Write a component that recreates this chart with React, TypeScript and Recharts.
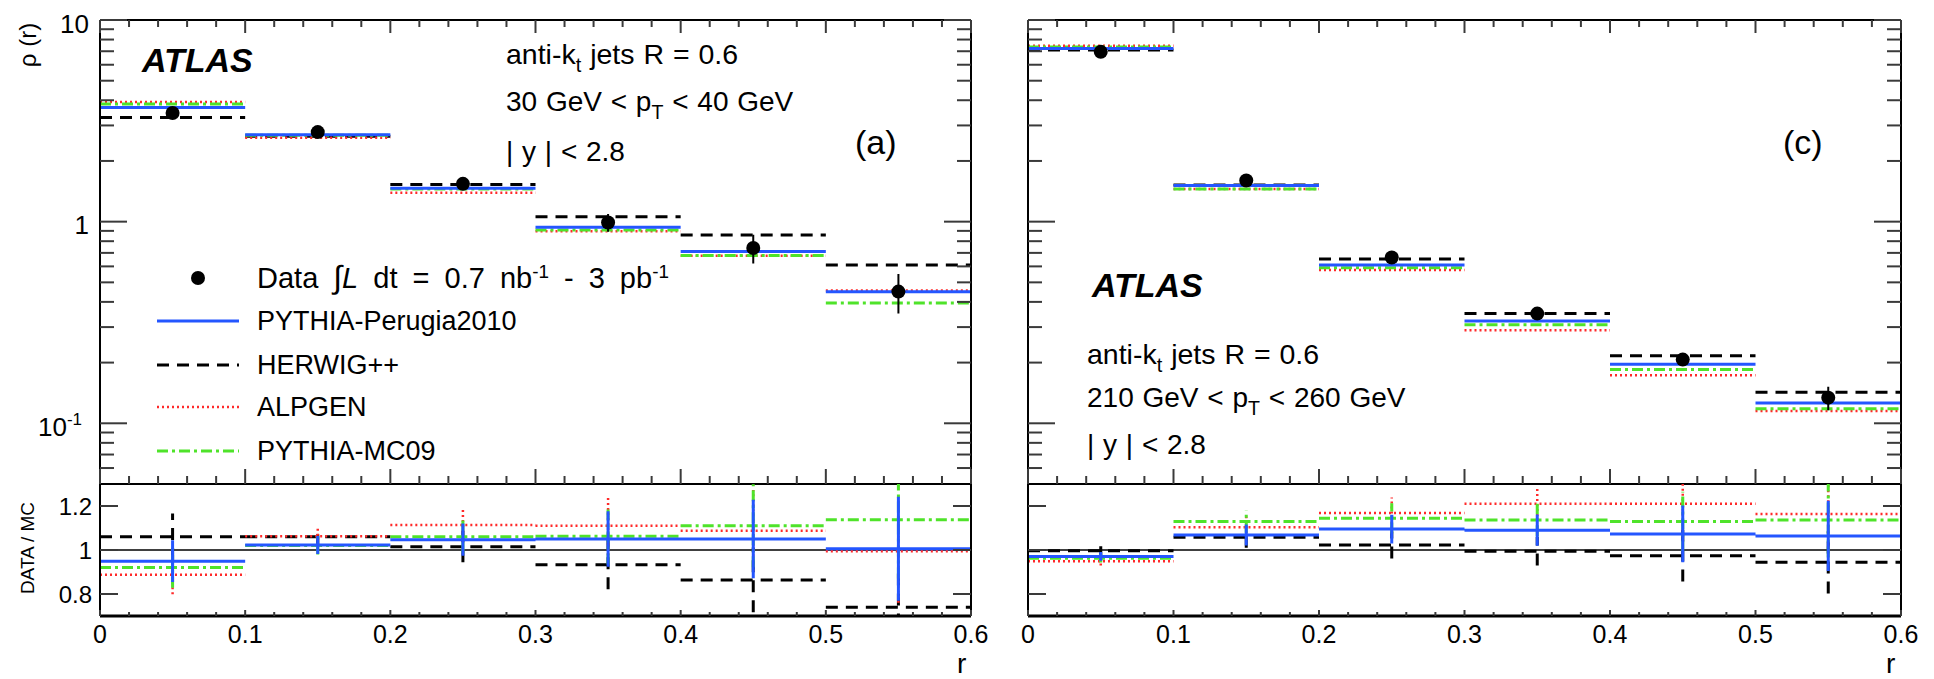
import React from 'react';
import { ComposedChart, Line, Scatter, XAxis, YAxis, ReferenceLine } from 'recharts';

const FONT = '"Liberation Sans", Arial, Helvetica, sans-serif';

// ---------------- binning / ticks ----------------
const BIN_EDGES = [0, 0.1, 0.2, 0.3, 0.4, 0.5, 0.6];
const X_MAJOR_TICKS = [0, 0.1, 0.2, 0.3, 0.4, 0.5, 0.6];
const X_TICK_LABELS = ['0', '0.1', '0.2', '0.3', '0.4', '0.5', '0.6'];
const X_MINOR_TICKS = [0.02, 0.04, 0.06, 0.08, 0.12, 0.14, 0.16, 0.18, 0.22, 0.24, 0.26, 0.28,
  0.32, 0.34, 0.36, 0.38, 0.42, 0.44, 0.46, 0.48, 0.52, 0.54, 0.56, 0.58];
const RHO_MAJOR_TICKS = [0.1, 1, 10];
const RHO_MINOR_TICKS = [0.06, 0.07, 0.08, 0.09, 0.2, 0.3, 0.4, 0.5, 0.6, 0.7, 0.8, 0.9, 2, 3, 4, 5, 6, 7, 8, 9];
const RATIO_TICKS = [0.8, 1, 1.2];
const RATIO_TICK_LABELS = ['0.8', '1', '1.2'];

// ---------------- panel (a): 30 < pT < 40 GeV ----------------
const DATA_A = [3.46, 2.78, 1.54, 0.99, 0.74, 0.45];
const DATA_ERR_A = [0.22, 0.1, 0.08, 0.1, 0.12, 0.1];
const PERUGIA_A = [3.68, 2.7, 1.465, 0.937, 0.711, 0.449];
const HERWIG_A = [3.28, 2.65, 1.53, 1.059, 0.859, 0.609];
const ALPGEN_A = [3.92, 2.61, 1.39, 0.895, 0.677, 0.455];
const MC09_A = [3.83, 2.68, 1.45, 0.91, 0.68, 0.395];
const RATIO_PERUGIA_A = [0.949, 1.023, 1.047, 1.05, 1.05, 1.006];
const RATIO_HERWIG_A = [1.06, 1.06, 1.015, 0.933, 0.864, 0.74];
const RATIO_ALPGEN_A = [0.888, 1.062, 1.114, 1.11, 1.088, 0.994];
const RATIO_MC09_A = [0.92, 1.02, 1.06, 1.062, 1.11, 1.138];
const RATIO_FRAC_ERR_A = [0.1, 0.04, 0.07, 0.12, 0.17, 0.235];

// ---------------- panel (c): 210 < pT < 260 GeV ----------------
const DATA_C = [6.95, 1.6, 0.664, 0.35, 0.207, 0.134];
const DATA_ERR_C = [0.1, 0.03, 0.015, 0.01, 0.012, 0.018];
const PERUGIA_C = [7.23, 1.51, 0.609, 0.322, 0.196, 0.126];
const HERWIG_C = [7.09, 1.52, 0.652, 0.35, 0.216, 0.1425];
const ALPGEN_C = [7.45, 1.45, 0.575, 0.289, 0.173, 0.115];
const MC09_C = [7.34, 1.45, 0.59, 0.308, 0.185, 0.118];
const RATIO_PERUGIA_C = [0.971, 1.068, 1.095, 1.09, 1.073, 1.064];
const RATIO_HERWIG_C = [0.997, 1.058, 1.023, 0.994, 0.974, 0.944];
const RATIO_ALPGEN_C = [0.949, 1.103, 1.168, 1.21, 1.21, 1.164];
const RATIO_MC09_C = [0.962, 1.129, 1.144, 1.136, 1.129, 1.136];
const RATIO_FRAC_ERR_C = [0.02, 0.045, 0.06, 0.065, 0.12, 0.15];

// ---------------- styles ----------------
const MC_STYLE: Record<string, any> = {
  herwig: { stroke: '#000000', strokeWidth: 3, strokeDasharray: '12 8' },
  alpgen: { stroke: '#ff2a2a', strokeWidth: 2.5, strokeDasharray: '2 3' },
  mc09: { stroke: '#4fe32a', strokeWidth: 3, strokeDasharray: '11 4 3 4' },
  perugia: { stroke: '#2456ff', strokeWidth: 3 },
};
const MC_ORDER = ['herwig', 'alpgen', 'mc09', 'perugia'];

type Pt = { x: number; y: number | null };

function binSegments(values: number[], fracErr?: number[]): Pt[] {
  const pts: Pt[] = [];
  values.forEach((v, i) => {
    const lo = BIN_EDGES[i];
    const hi = BIN_EDGES[i + 1];
    pts.push({ x: lo, y: v }, { x: hi, y: v }, { x: hi, y: null });
    if (fracErr) {
      const c = (lo + hi) / 2;
      pts.push({ x: c, y: v * (1 - fracErr[i]) }, { x: c, y: v * (1 + fracErr[i]) }, { x: c, y: null });
    }
  });
  return pts;
}

function errSegments(values: number[], errs: number[]): Pt[] {
  const pts: Pt[] = [];
  values.forEach((v, i) => {
    const c = (BIN_EDGES[i] + BIN_EDGES[i + 1]) / 2;
    pts.push({ x: c, y: v - errs[i] }, { x: c, y: v + errs[i] }, { x: c, y: null });
  });
  return pts;
}

function centers(values: number[]): Pt[] {
  return values.map((v, i) => ({ x: (BIN_EDGES[i] + BIN_EDGES[i + 1]) / 2, y: v }));
}

const near = (list: number[], v: number) => list.findIndex((t) => Math.abs(t - v) < 1e-9);

// ---------------- tick renderers ----------------
const TICK_COLOR = '#3a3a3a';

function XTick(props: any) {
  const { x, y, payload, dir, majorLen, minorLen, showLabel } = props;
  const idx = near(X_MAJOR_TICKS, payload.value);
  const major = idx >= 0;
  const len = major ? majorLen : minorLen;
  return (
    <g>
      {len > 0 && <line x1={x} x2={x} y1={y} y2={y + dir * len} stroke={TICK_COLOR} strokeWidth={2} />}
      {showLabel && major && (
        <text x={x} y={y + 27} textAnchor="middle" fontSize={25} fontFamily={FONT} fill="#000">
          {X_TICK_LABELS[idx]}
        </text>
      )}
    </g>
  );
}

function RhoTick(props: any) {
  const { x, y, payload, dir, showLabel } = props;
  const v = payload.value;
  const major = near(RHO_MAJOR_TICKS, v) >= 0;
  const len = major ? 27 : 14;
  let label: any = null;
  if (showLabel && major) {
    if (Math.abs(v - 0.1) < 1e-9) {
      label = (
        <text x={x - 18} y={y + 13} textAnchor="end" fontSize={26} fontFamily={FONT} fill="#000">
          10<tspan dy={-11} fontSize={17}>-1</tspan>
        </text>
      );
    } else {
      label = (
        <text x={x - 11} y={y + 12.5} textAnchor="end" fontSize={26} fontFamily={FONT} fill="#000">
          {Math.abs(v - 10) < 1e-9 ? '10' : '1'}
        </text>
      );
    }
  }
  return (
    <g>
      <line x1={x} x2={x + dir * len} y1={y} y2={y} stroke={TICK_COLOR} strokeWidth={2} />
      {label}
    </g>
  );
}

function RatioTick(props: any) {
  const { x, y, payload, dir, showLabel } = props;
  const idx = near(RATIO_TICKS, payload.value);
  return (
    <g>
      <line x1={x} x2={x + dir * 18} y1={y} y2={y} stroke={TICK_COLOR} strokeWidth={2} />
      {showLabel && idx >= 0 && (
        <text x={x - 8} y={y + 8.5} textAnchor="end" fontSize={24} fontFamily={FONT} fill="#000">
          {RATIO_TICK_LABELS[idx]}
        </text>
      )}
    </g>
  );
}

const X_ALL_TICKS = [...X_MAJOR_TICKS, ...X_MINOR_TICKS].sort((a, b) => a - b);
const RHO_ALL_TICKS = [...RHO_MAJOR_TICKS, ...RHO_MINOR_TICKS].sort((a, b) => a - b);
const AXIS_LINE = { stroke: '#000', strokeWidth: 2 };

function DataDot(props: any) {
  const { cx, cy } = props;
  if (cx == null || cy == null) return null;
  return <circle cx={cx} cy={cy} r={7} fill="#000" />;
}

// axes get a 1px band (0 would hide them); margins are reduced by that 1px
function RhoChart(props: any) {
  const { width, height, margin, data, dataErr, mc, showLabels } = props;
  return (
    <ComposedChart width={width} height={height} margin={margin}>
      <XAxis xAxisId="b" dataKey="x" type="number" domain={[0, 0.6]} allowDataOverflow ticks={X_ALL_TICKS}
        interval={0} orientation="bottom" height={1} tickSize={0} tickMargin={0} tickLine={false}
        axisLine={AXIS_LINE} tick={<XTick dir={-1} majorLen={15} minorLen={8} showLabel={false} />} />
      <XAxis xAxisId="t" dataKey="x" type="number" domain={[0, 0.6]} allowDataOverflow ticks={X_ALL_TICKS}
        interval={0} orientation="top" height={1} tickSize={0} tickMargin={0} tickLine={false}
        axisLine={AXIS_LINE} tick={<XTick dir={1} majorLen={13} minorLen={7} showLabel={false} />} />
      <YAxis yAxisId="l" type="number" scale="log" domain={[0.05, 10]} allowDataOverflow ticks={RHO_ALL_TICKS}
        interval={0} orientation="left" width={1} tickSize={0} tickMargin={0} tickLine={false}
        axisLine={AXIS_LINE} tick={<RhoTick dir={1} showLabel={showLabels} />} />
      <YAxis yAxisId="r" type="number" scale="log" domain={[0.05, 10]} allowDataOverflow ticks={RHO_ALL_TICKS}
        interval={0} orientation="right" width={1} tickSize={0} tickMargin={0} tickLine={false}
        axisLine={AXIS_LINE} tick={<RhoTick dir={-1} showLabel={false} />} />
      {MC_ORDER.map((k) => (
        <Line key={k} xAxisId="b" yAxisId="l" data={binSegments(mc[k])} dataKey="y" type="linear"
          dot={false} activeDot={false} isAnimationActive={false} strokeLinecap="butt" {...MC_STYLE[k]} />
      ))}
      <Line xAxisId="b" yAxisId="l" data={errSegments(data, dataErr)} dataKey="y" type="linear" dot={false}
        activeDot={false} isAnimationActive={false} stroke="#000" strokeWidth={2} />
      <Scatter xAxisId="b" yAxisId="l" data={centers(data)} dataKey="y" shape={<DataDot />} isAnimationActive={false} />
    </ComposedChart>
  );
}

function RatioChart(props: any) {
  const { width, height, margin, ratios, fracErr, showLabels } = props;
  return (
    <ComposedChart width={width} height={height} margin={margin}>
      <XAxis xAxisId="b" dataKey="x" type="number" domain={[0, 0.6]} allowDataOverflow ticks={X_ALL_TICKS}
        interval={0} orientation="bottom" height={1} tickSize={0} tickMargin={0} tickLine={false}
        axisLine={{ stroke: '#000', strokeWidth: 3 }} tick={<XTick dir={-1} majorLen={6} minorLen={4} showLabel />} />
      <YAxis yAxisId="l" type="number" domain={[0.7, 1.3]} allowDataOverflow ticks={RATIO_TICKS} interval={0}
        orientation="left" width={1} tickSize={0} tickMargin={0} tickLine={false} axisLine={AXIS_LINE}
        tick={<RatioTick dir={1} showLabel={showLabels} />} />
      <YAxis yAxisId="r" type="number" domain={[0.7, 1.3]} allowDataOverflow ticks={RATIO_TICKS} interval={0}
        orientation="right" width={1} tickSize={0} tickMargin={0} tickLine={false} axisLine={AXIS_LINE}
        tick={<RatioTick dir={-1} showLabel={false} />} />
      <ReferenceLine xAxisId="b" yAxisId="l" y={1} stroke="#000" strokeWidth={1.5} />
      {MC_ORDER.map((k) => (
        <Line key={k} xAxisId="b" yAxisId="l" data={binSegments(ratios[k], fracErr)} dataKey="y" type="linear"
          dot={false} activeDot={false} isAnimationActive={false} strokeLinecap="butt" {...MC_STYLE[k]} />
      ))}
    </ComposedChart>
  );
}

// ---------------- HTML text helpers ----------------
function Txt(props: any) {
  const { x, y, size, children, style } = props;
  return (
    <div style={{ position: 'absolute', left: x, top: y, transform: 'translateY(-50%)', fontFamily: FONT,
      fontSize: size, lineHeight: 1, whiteSpace: 'nowrap', color: '#000', ...style }}>
      {children}
    </div>
  );
}
const Sub = (p: any) => <span style={{ fontSize: '0.7em', position: 'relative', top: '0.4em' }}>{p.children}</span>;
const Sup = (p: any) => <span style={{ fontSize: '0.65em', position: 'relative', top: '-0.55em' }}>{p.children}</span>;

function RotTxt(props: any) {
  const { cx, cy, size, children } = props;
  return (
    <div style={{ position: 'absolute', left: cx, top: cy, transform: 'translate(-50%, -50%) rotate(-90deg)',
      fontFamily: FONT, fontSize: size, lineHeight: 1, whiteSpace: 'nowrap', color: '#000' }}>
      {children}
    </div>
  );
}

const LEGEND_ITEMS = [
  { key: 'perugia', label: 'PYTHIA-Perugia2010', y: 321 },
  { key: 'herwig', label: 'HERWIG++', y: 365 },
  { key: 'alpgen', label: 'ALPGEN', y: 407 },
  { key: 'mc09', label: 'PYTHIA-MC09', y: 451 },
];

export default function App() {
  const mcA = { perugia: PERUGIA_A, herwig: HERWIG_A, alpgen: ALPGEN_A, mc09: MC09_A };
  const mcC = { perugia: PERUGIA_C, herwig: HERWIG_C, alpgen: ALPGEN_C, mc09: MC09_C };
  const ratioA = { perugia: RATIO_PERUGIA_A, herwig: RATIO_HERWIG_A, alpgen: RATIO_ALPGEN_A, mc09: RATIO_MC09_A };
  const ratioC = { perugia: RATIO_PERUGIA_C, herwig: RATIO_HERWIG_C, alpgen: RATIO_ALPGEN_C, mc09: RATIO_MC09_C };
  const atlas = { fontWeight: 'bold', fontStyle: 'italic' };
  const anno = { wordSpacing: '1px' };
  return (
    <div style={{ position: 'absolute', left: 0, top: 0, width: 1934, height: 679, background: '#fff', overflow: 'hidden' }}>
      <div style={{ position: 'absolute', left: 0, top: 0 }}>
        <RhoChart width={1000} height={500} margin={{ top: 19, right: 28, bottom: 15, left: 99 }}
          data={DATA_A} dataErr={DATA_ERR_A} mc={mcA} showLabels />
      </div>
      <div style={{ position: 'absolute', left: 990, top: 0 }}>
        <RhoChart width={944} height={500} margin={{ top: 19, right: 32, bottom: 15, left: 37 }}
          data={DATA_C} dataErr={DATA_ERR_C} mc={mcC} showLabels={false} />
      </div>
      <div style={{ position: 'absolute', left: 0, top: 470 }}>
        <RatioChart width={1000} height={209} margin={{ top: 14, right: 28, bottom: 62, left: 99 }}
          ratios={ratioA} fracErr={RATIO_FRAC_ERR_A} showLabels />
      </div>
      <div style={{ position: 'absolute', left: 990, top: 470 }}>
        <RatioChart width={944} height={209} margin={{ top: 14, right: 32, bottom: 62, left: 37 }}
          ratios={ratioC} fracErr={RATIO_FRAC_ERR_C} showLabels={false} />
      </div>

      {/* axis titles */}
      <RotTxt cx={28} cy={45} size={24}>ρ (r)</RotTxt>
      <RotTxt cx={27} cy={548} size={19}>DATA / MC</RotTxt>
      <Txt x={957} y={664} size={28}>r</Txt>
      <Txt x={1886} y={664} size={28}>r</Txt>

      {/* panel (a) annotations */}
      <Txt x={142} y={60} size={34} style={atlas}>ATLAS</Txt>
      <Txt x={506} y={54} size={28.5} style={anno}>anti-k<Sub>t</Sub> jets R = 0.6</Txt>
      <Txt x={506} y={102} size={28} style={anno}>30 GeV &lt; p<Sub>T</Sub> &lt; 40 GeV</Txt>
      <Txt x={506} y={152} size={28} style={anno}>| y | &lt; 2.8</Txt>
      <Txt x={855} y={142} size={34}>(a)</Txt>

      {/* panel (c) annotations */}
      <Txt x={1092} y={285} size={34} style={atlas}>ATLAS</Txt>
      <Txt x={1087} y={354} size={28.5} style={anno}>anti-k<Sub>t</Sub> jets R = 0.6</Txt>
      <Txt x={1087} y={398} size={28} style={anno}>210 GeV &lt; p<Sub>T</Sub> &lt; 260 GeV</Txt>
      <Txt x={1087} y={445} size={28} style={anno}>| y | &lt; 2.8</Txt>
      <Txt x={1783} y={142} size={34}>(c)</Txt>

      {/* legend */}
      <svg style={{ position: 'absolute', left: 0, top: 0 }} width={260} height={480}>
        <circle cx={198} cy={278} r={7} fill="#000" />
        {LEGEND_ITEMS.map((it) => (
          <line key={it.key} x1={157} x2={239} y1={it.y} y2={it.y} {...MC_STYLE[it.key]} />
        ))}
      </svg>
      <Txt x={257} y={278} size={29} style={{ wordSpacing: '7px' }}>
        Data <span style={{ fontSize: '1.1em' }}>∫</span><i>L</i> dt = 0.7 nb<Sup>-1</Sup> - 3 pb<Sup>-1</Sup>
      </Txt>
      {LEGEND_ITEMS.map((it) => (
        <Txt key={it.key} x={257} y={it.y} size={27}>{it.label}</Txt>
      ))}
    </div>
  );
}
